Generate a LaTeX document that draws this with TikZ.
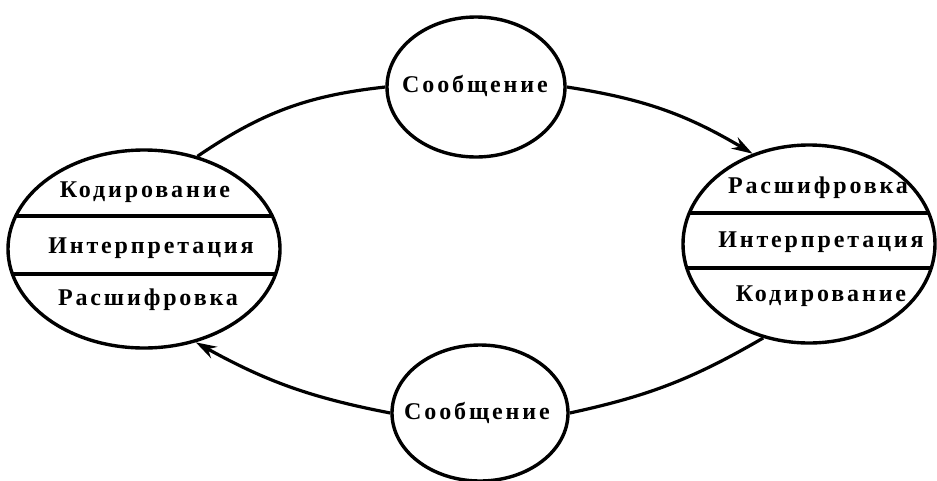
\documentclass[tikz,border=0pt]{standalone}
\usepackage{fontspec}
\newfontfamily\lblfont{Liberation Serif}[LetterSpace=12]
\usetikzlibrary{positioning,arrows.meta,shapes.geometric}

\tikzset{
  oval/.style={draw, ellipse, inner sep=0pt, line width=3.4pt},
  stage/.style={inner sep=0pt, anchor=base},
  flow/.style={line width=3.2pt},
  divider/.style={line width=3.2pt},
}

\begin{document}
\begin{tikzpicture}[x=1pt, y=-1pt, >={Stealth[length=21pt,width=13pt,inset=7pt]},
    font=\lblfont\bfseries\fontsize{24}{27}\selectfont]
	\useasboundingbox (0,0) rectangle (937,480);

	% the two partners and the two messages
	\node[oval, minimum width=272pt, minimum height=198pt] (lft) at (144,249) {};
	\node[oval, minimum width=252pt, minimum height=198pt] (rgt) at (809,244) {};
	\node[oval, minimum width=178pt, minimum height=140pt] (msgt) at (476,87) {};
	\node[oval, minimum width=176pt, minimum height=136pt] (msgb) at (480,413) {};
	\node[stage] (msgttext) at (475,92) {Сообщение};
	\node[stage] (msgbtext) at (477,419) {Сообщение};

	% stripes inside the partners
	\begin{scope}
		\clip (lft.center) ellipse [x radius=136pt, y radius=99pt];
		\draw[divider] (lft.west |- 0,216) -- (lft.east |- 0,216);
		\draw[divider] (lft.west |- 0,274) -- (lft.east |- 0,274);
	\end{scope}
	\begin{scope}
		\clip (rgt.center) ellipse [x radius=126pt, y radius=99pt];
		\draw[divider] (rgt.west |- 0,213) -- (rgt.east |- 0,213);
		\draw[divider] (rgt.west |- 0,268) -- (rgt.east |- 0,268);
	\end{scope}

	% left partner
	\node[stage] (lcod) at (145,197) {Кодирование};
	\node[stage] (lint) at (151,253) {Интерпретация};
	\node[stage] (ldec) at (148,305) {Расшифровка};

	% right partner
	\node[stage] (rdec) at (818,193) {Расшифровка};
	\node[stage] (rint) at (821,247) {Интерпретация};
	\node[stage] (rcod) at (821,301) {Кодирование};

	% connectors
	\draw[flow] (msgt.west) to[bend right=14] (lft.60);
	\draw[flow, ->] (msgt.east) to[bend left=11] (rgt.122);
	\draw[flow] (rgt.244) to[bend left=9] (msgb.east);
	\draw[flow, ->] (msgb.west) to[bend left=9] (lft.-61);
\end{tikzpicture}
\end{document}
